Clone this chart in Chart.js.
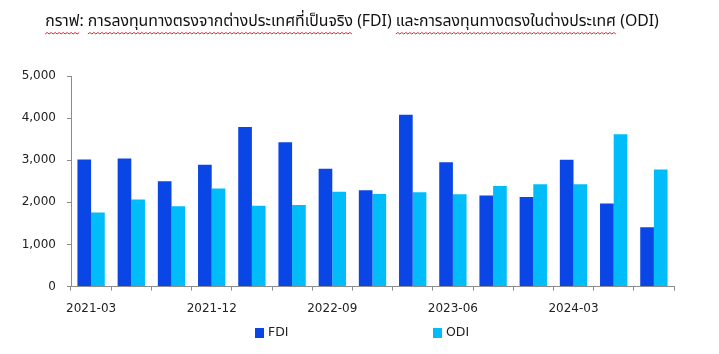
<!DOCTYPE html>
<html>
<head>
<meta charset="utf-8">
<script src="https://cdn.jsdelivr.net/npm/chart.js@4.4.0/dist/chart.umd.min.js"></script>
<style>
html, body { margin: 0; padding: 0; background: #fff; }
#wrap { width: 719px; height: 354px; }
</style>
</head>
<body>
<div id="wrap"><canvas id="myChart"></canvas></div>
<script>
const labels = ['2021-03', '2021-06', '2021-09', '2021-12', '2022-03', '2022-06', '2022-09', '2022-12',
    '2023-03', '2023-06', '2023-09', '2023-12', '2024-03', '2024-06', '2024-09'];
const fdiValues = [3020, 3040, 2500, 2890, 3790, 3430, 2800, 2290, 4080, 2950, 2160, 2130, 3010, 1970, 1410];
const odiValues = [1760, 2070, 1910, 2330, 1920, 1940, 2250, 2200, 2240, 2190, 2390, 2430, 2430, 3620, 2780];
const seriesNames = ['FDI', 'ODI'];
const titleText = 'กราฟ: การลงทุนทางตรงจากต่างประเทศที่เป็นจริง (FDI) และการลงทุนทางตรงในต่างประเทศ (ODI)';
const underlined = ['กราฟ', 'การลงทุนทางตรงจากต่างประเทศที่เป็นจริง', 'และการลงทุนทางตรงในต่างประเทศ'];

const titleFont = "15.8px Tahoma, 'Noto Sans Thai', 'Noto Sans', 'DejaVu Sans', sans-serif";
const axisColor = '#8c8c8c';

// title, with the red wavy spell-check line under the thai words
const titleWithSquiggle = {
    id: 'titleWithSquiggle',
    afterDraw(chart) {
        const ctx = chart.ctx;
        const cx = 352, cy = 23;
        ctx.save();
        ctx.font = titleFont;
        ctx.fillStyle = '#111';
        ctx.textAlign = 'center';
        ctx.textBaseline = 'middle';
        ctx.fillText(titleText, cx, cy);

        const full = ctx.measureText(titleText).width;
        const startX = cx - full / 2;
        const y = cy + 11;
        ctx.strokeStyle = '#e0202a';
        ctx.lineWidth = 1;
        underlined.forEach(word => {
            const i = titleText.indexOf(word);
            const x0 = startX + ctx.measureText(titleText.slice(0, i)).width;
            const x1 = x0 + ctx.measureText(word).width;
            ctx.beginPath();
            let up = true;
            ctx.moveTo(x0, y);
            for (let x = x0 + 2; x <= x1; x += 2) {
                ctx.lineTo(x, up ? y - 1.5 : y);
                up = !up;
            }
            ctx.stroke();
        });
        ctx.restore();
    }
};

// legend with wide gap between the two items
const wideLegend = {
    id: 'wideLegend',
    afterDraw(chart) {
        const ctx = chart.ctx;
        const xs = [255, 433];
        const y = 333;
        ctx.save();
        ctx.font = "12.5px 'DejaVu Sans', sans-serif";
        ctx.textBaseline = 'middle';
        chart.data.datasets.forEach((ds, i) => {
            ctx.fillStyle = ds.backgroundColor;
            ctx.fillRect(xs[i], y - 5, 9, 10);
            ctx.fillStyle = '#222';
            ctx.fillText(ds.label, xs[i] + 13, y);
        });
        ctx.restore();
    }
};

const data = {
    labels: labels,
    datasets: [{
        label: seriesNames[0],
        data: fdiValues,
        backgroundColor: '#0a46e6'
    }, {
        label: seriesNames[1],
        data: odiValues,
        backgroundColor: '#00bdfa'
    }]
};

const config = {
    type: 'bar',
    data: data,
    options: {
        responsive: true,
        maintainAspectRatio: false,
        animation: false,
        layout: { padding: { top: 76, right: 45, bottom: 27, left: 0 } },
        datasets: { bar: { barPercentage: 1, categoryPercentage: 0.68 } },
        plugins: {
            legend: { display: false },
            title: { display: false },
            tooltip: { enabled: false }
        },
        scales: {
            x: {
                grid: { drawOnChartArea: false, drawTicks: true, tickLength: 4, color: axisColor },
                border: { color: axisColor },
                ticks: {
                    autoSkip: false,
                    maxRotation: 0,
                    padding: 11,
                    color: '#222',
                    font: { family: "'DejaVu Sans', sans-serif", size: 12 },
                    callback: (v, i) => i % 3 === 0 ? labels[i] : ''
                }
            },
            y: {
                min: 0,
                max: 5000,
                afterFit: scale => { scale.width = 71; },
                grid: { drawOnChartArea: false, drawTicks: true, tickLength: 4, color: axisColor },
                border: { color: axisColor },
                ticks: {
                    stepSize: 1000,
                    padding: 11,
                    color: '#222',
                    font: { family: "'DejaVu Sans', sans-serif", size: 12 },
                    callback: v => v.toLocaleString('en-US')
                }
            }
        }
    },
    plugins: [titleWithSquiggle, wideLegend]
};

var myChart = new Chart(document.getElementById('myChart'), config);
</script>
</body>
</html>
